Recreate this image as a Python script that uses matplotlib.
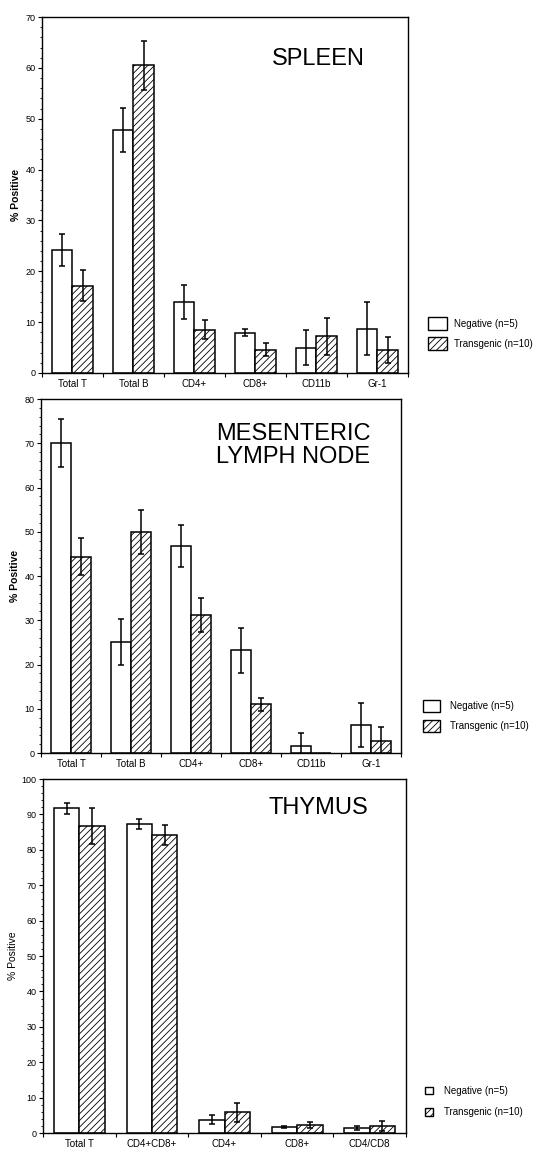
import matplotlib
matplotlib.use("Agg")
import matplotlib.pyplot as plt
from matplotlib.patches import Patch
import numpy as np

plt.rcParams['font.family'] = ['Liberation Sans', 'DejaVu Sans']
plt.rcParams['hatch.linewidth'] = 0.6

# ---- data ----
spleen_cats = ["Total T", "Total B", "CD4+", "CD8+", "CD11b", "Gr-1"]
spleen_neg = [24.2, 47.8, 14.0, 7.9, 5.0, 8.7]
spleen_neg_err = [3.1, 4.4, 3.3, 0.7, 3.4, 5.2]
spleen_tg = [17.2, 60.5, 8.5, 4.6, 7.2, 4.5]
spleen_tg_err = [3.1, 4.8, 1.9, 1.3, 3.6, 2.5]

mln_cats = ["Total T", "Total B", "CD4+", "CD8+", "CD11b", "Gr-1"]
mln_neg = [70.0, 25.1, 46.8, 23.2, 1.7, 6.3]
mln_neg_err = [5.4, 5.3, 4.7, 5.0, 2.8, 5.0]
mln_tg = [44.4, 50.0, 31.2, 11.0, 0.0, 2.7]
mln_tg_err = [4.2, 5.0, 3.8, 1.4, 0.0, 3.3]

thy_cats = ["Total T", "CD4+CD8+", "CD4+", "CD8+", "CD4/CD8"]
thy_neg = [91.7, 87.3, 3.8, 1.7, 1.4]
thy_neg_err = [1.5, 1.4, 1.3, 0.4, 0.5]
thy_tg = [86.7, 84.2, 5.8, 2.2, 2.0]
thy_tg_err = [5.0, 2.7, 2.8, 0.8, 1.3]

legend_labels = ["Negative (n=5)", "Transgenic (n=10)"]

fig = plt.figure(figsize=(5.35, 11.49), dpi=100)

panels = [
    dict(rect=[0.0785, 0.6754, 0.684, 0.3098], cats=spleen_cats, neg=spleen_neg, nerr=spleen_neg_err,
         tg=spleen_tg, terr=spleen_tg_err, ymax=70, title="SPLEEN", tx=0.882, ty=0.881,
         bw=0.33, bold=True, leg=dict(x=0.800, y=0.724, hl=2.0, hh=1.65, ls=0.72, tp=0.7)),
    dict(rect=[0.0766, 0.3446, 0.673, 0.3081], cats=mln_cats, neg=mln_neg, nerr=mln_neg_err,
         tg=mln_tg, terr=mln_tg_err, ymax=80, title="MESENTERIC\nLYMPH NODE", tx=0.915, ty=0.869,
         bw=0.33, bold=True, leg=dict(x=0.791, y=0.391, hl=1.75, hh=1.55, ls=0.8, tp=1.0)),
    dict(rect=[0.0804, 0.0139, 0.6785, 0.3081], cats=thy_cats, neg=thy_neg, nerr=thy_neg_err,
         tg=thy_tg, terr=thy_tg_err, ymax=100, title="THYMUS", tx=0.895, ty=0.918,
         bw=0.35, bold=False, leg=dict(x=0.794, y=0.055, hl=0.85, hh=0.85, ls=1.2, tp=1.1)),
]

for p in panels:
    ax = fig.add_axes(p['rect'])
    n = len(p['cats'])
    centers = np.arange(n) + 0.5
    bw = p['bw']
    ax.bar(centers - bw / 2, p['neg'], width=bw, color='white', edgecolor='black', linewidth=1.1, zorder=2)
    ax.bar(centers + bw / 2, p['tg'], width=bw, color='white', edgecolor='black', linewidth=1.1,
           hatch='/////', zorder=2)
    ax.errorbar(centers - bw / 2, p['neg'], yerr=p['nerr'], fmt='none', ecolor='black',
                elinewidth=1.1, capsize=2.5, capthick=1.1, zorder=3)
    terr = np.array(p['terr'])
    tvals = np.array(p['tg'])
    mask = terr > 0
    ax.errorbar((centers + bw / 2)[mask], tvals[mask], yerr=terr[mask], fmt='none', ecolor='black',
                elinewidth=1.1, capsize=2.5, capthick=1.1, zorder=3)

    ax.set_xlim(0, n)
    ax.set_ylim(0, p['ymax'])
    ax.set_xticks(np.arange(n + 1))
    ax.set_xticklabels([])
    ax.set_xticks(centers, minor=True)
    ax.set_xticklabels(p['cats'], minor=True, fontsize=7)
    ax.tick_params(axis='x', which='minor', length=0, pad=4)
    ax.tick_params(axis='x', which='major', length=3, width=0.8, direction='out')
    ax.set_yticks(np.arange(0, p['ymax'] + 1, 10))
    ax.set_yticks(np.arange(0, p['ymax'] + 1, 2), minor=True)
    ax.tick_params(axis='y', which='major', length=3, width=0.8, labelsize=6.5, pad=1.5)
    ax.tick_params(axis='y', which='minor', length=1.5, width=0.6)
    for s in ax.spines.values():
        s.set_linewidth(1.0)
    ax.set_ylabel("% Positive", fontsize=7.5, fontweight='bold' if p['bold'] else 'normal', labelpad=3)

    ax.text(p['tx'], p['ty'], p['title'], transform=ax.transAxes, ha='right', va='center',
            fontsize=17, multialignment='left', linespacing=1.05)

    handles = [Patch(facecolor='white', edgecolor='black', linewidth=1.0),
               Patch(facecolor='white', edgecolor='black', linewidth=1.0, hatch='/////')]
    L = p['leg']
    ax.legend(handles, legend_labels, loc='upper left', bbox_to_anchor=(L['x'], L['y']),
              bbox_transform=fig.transFigure, frameon=False, fontsize=7, borderpad=0,
              borderaxespad=0, handlelength=L['hl'], handleheight=L['hh'],
              labelspacing=L['ls'], handletextpad=L['tp'])

fig.savefig("out.png", dpi=100)
